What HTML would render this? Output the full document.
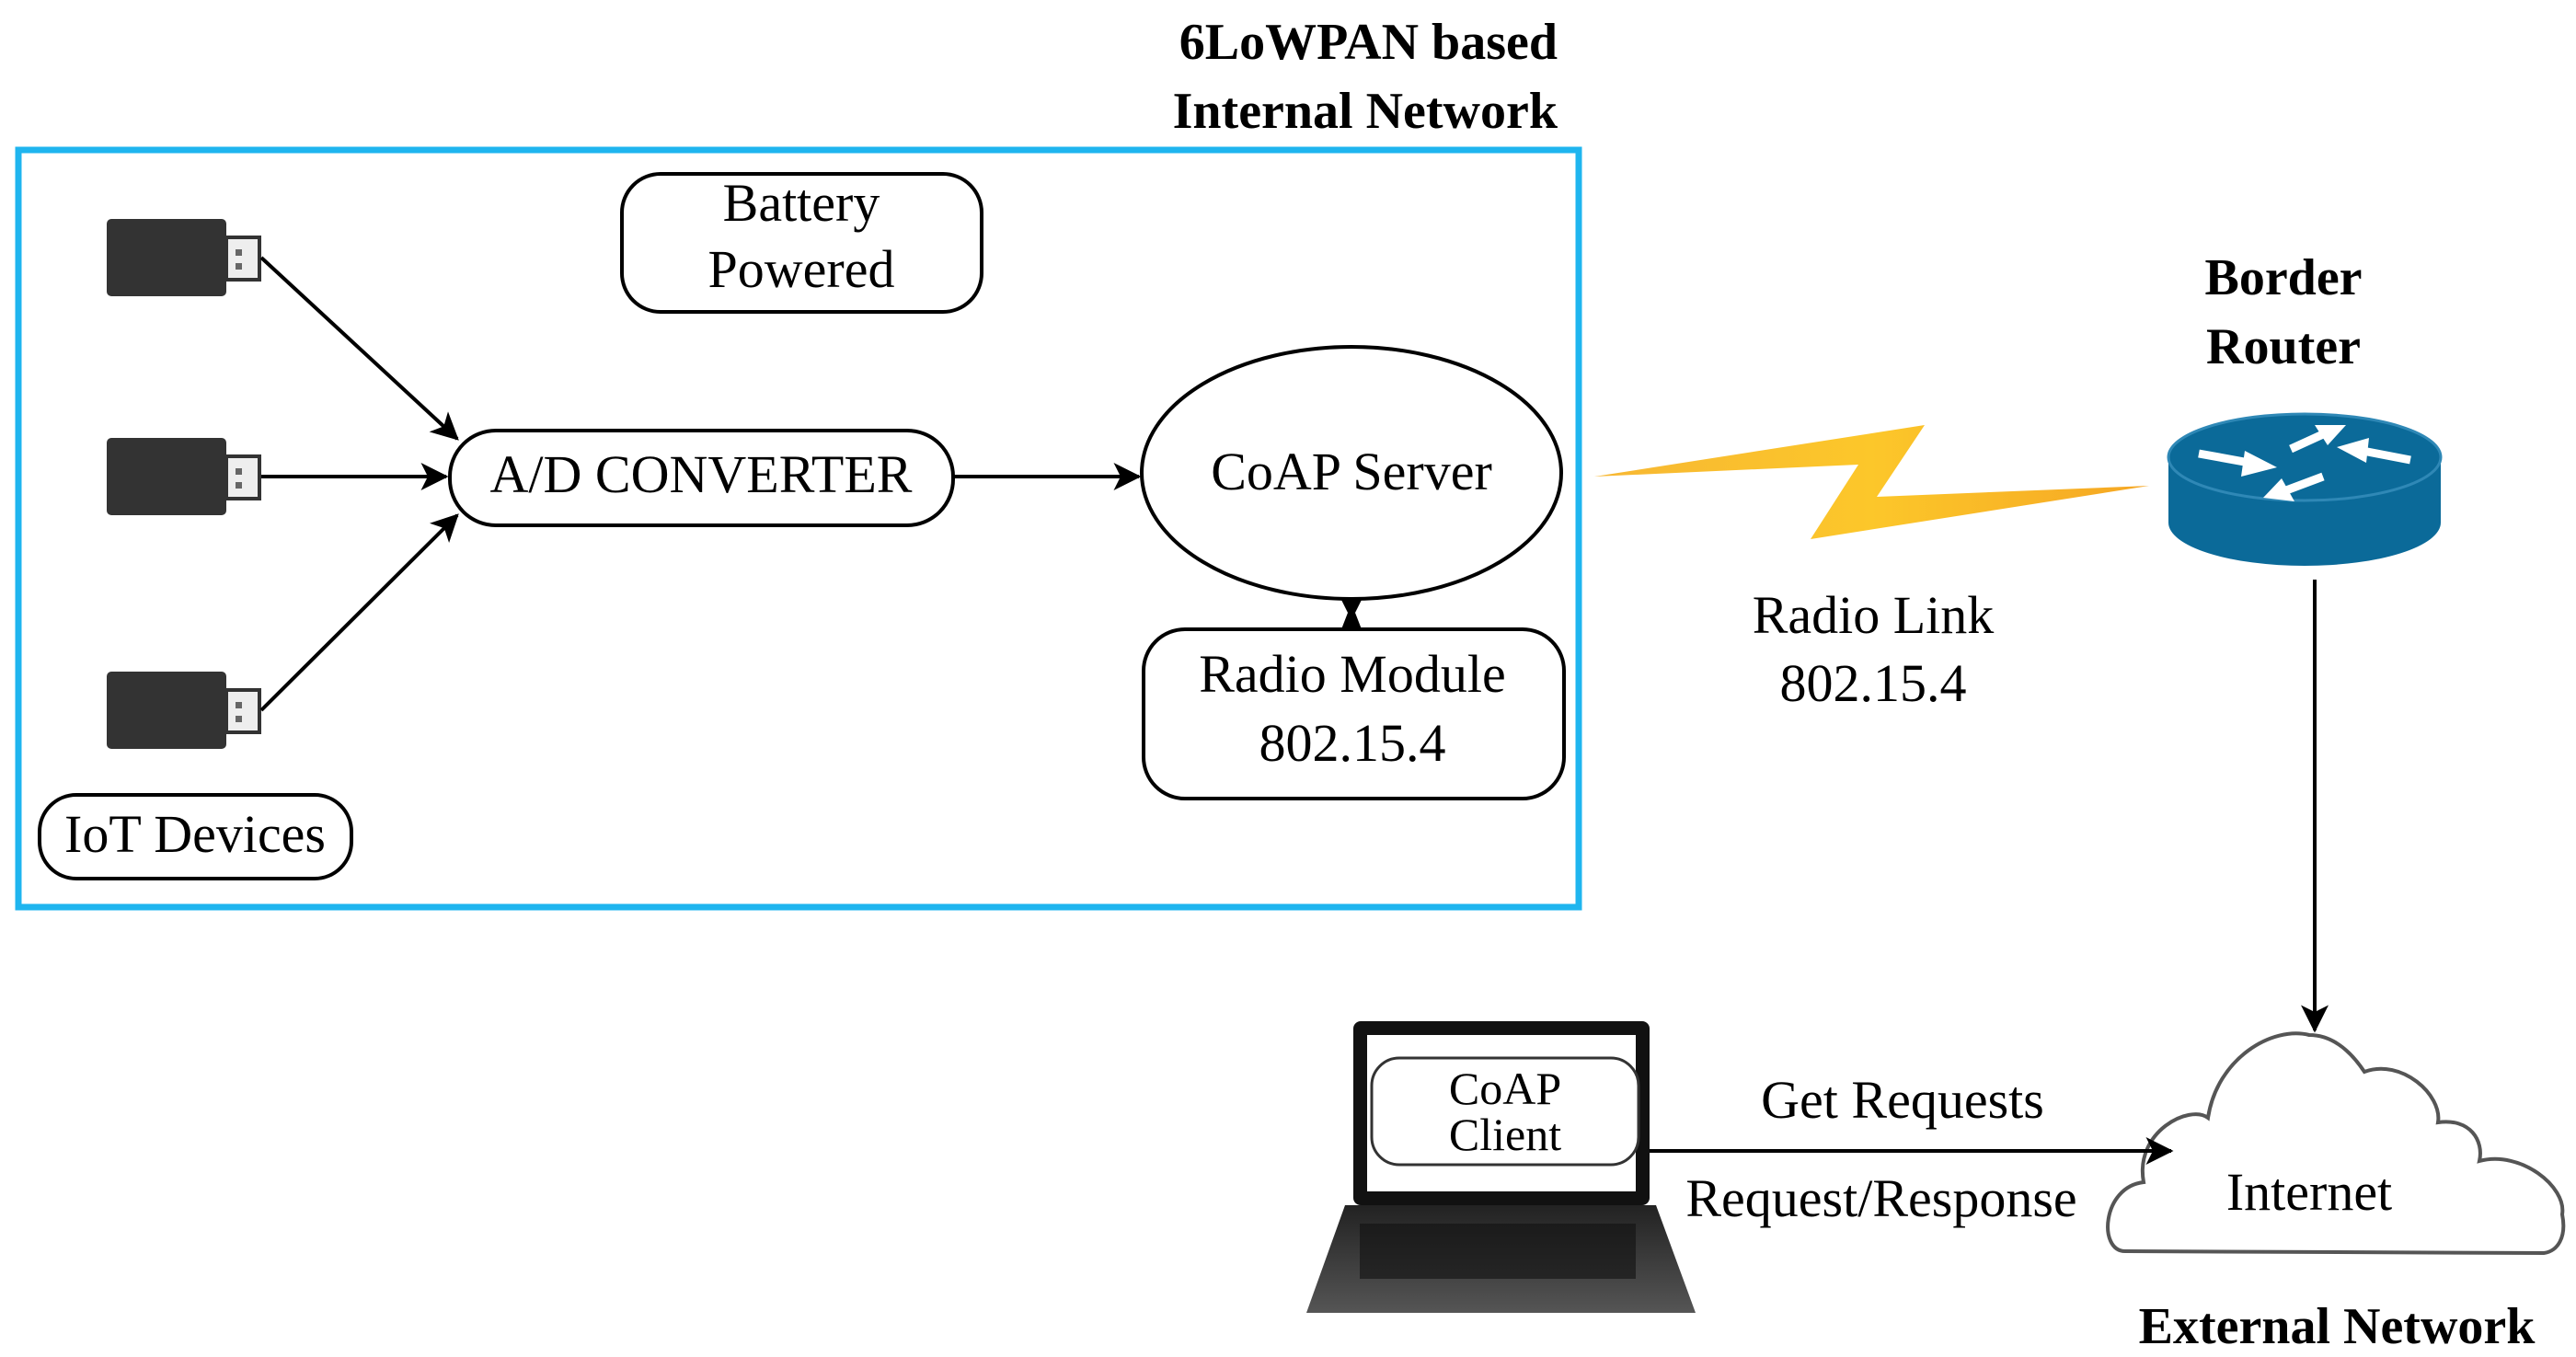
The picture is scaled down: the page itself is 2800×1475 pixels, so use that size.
<!DOCTYPE html>
<html><head><meta charset="utf-8"><style>
html,body{margin:0;padding:0;background:#fff}
svg{display:block}
svg text{font-family:"Liberation Serif","Times New Roman","DejaVu Serif",serif;fill:#000}
</style></head><body>
<svg width="2800" height="1475" viewBox="0 0 2800 1475" xmlns="http://www.w3.org/2000/svg" font-family="Liberation Serif, serif">
<defs>
<marker id="a" viewBox="0 0 12 12" refX="11" refY="6" markerWidth="30" markerHeight="30" markerUnits="userSpaceOnUse" orient="auto"><path d="M0,0 L12,6 L0,12 L3,6 z" fill="#000"/></marker>
<linearGradient id="bolt" x1="0" y1="0" x2="1" y2="0"><stop offset="0" stop-color="#f7b733"/><stop offset="0.5" stop-color="#fcc72a"/><stop offset="1" stop-color="#f5a623"/></linearGradient>
<linearGradient id="kb" x1="0" y1="0" x2="0" y2="1"><stop offset="0" stop-color="#222"/><stop offset="1" stop-color="#555"/></linearGradient>
</defs>

<text x="1693" y="64" font-size="56" font-weight="bold" text-anchor="end" font-family="Liberation Serif, serif">6LoWPAN based</text>
<text x="1693" y="139" font-size="56" font-weight="bold" text-anchor="end" font-family="Liberation Serif, serif">Internal Network</text>

<rect x="20" y="163" width="1696" height="823" fill="none" stroke="#1fb5ef" stroke-width="7"/>

<rect x="676" y="189" width="391" height="150" rx="42" fill="#fff" stroke="#000" stroke-width="4"/>
<text x="871" y="240" font-size="58" text-anchor="middle" font-family="Liberation Serif, serif">Battery</text>
<text x="871" y="312" font-size="58" text-anchor="middle" font-family="Liberation Serif, serif">Powered</text>

<g id="usb">
<rect x="116" y="238" width="130" height="84" rx="5" fill="#333"/>
<rect x="246" y="258" width="36" height="46" fill="#eee" stroke="#333" stroke-width="4"/>
<rect x="256" y="271" width="7" height="7" fill="#666"/><rect x="256" y="286" width="7" height="7" fill="#666"/>
</g>
<use href="#usb" transform="translate(0,238)"/>
<use href="#usb" transform="translate(0,492)"/>

<line x1="284" y1="280" x2="497" y2="477" stroke="#000" stroke-width="4" marker-end="url(#a)"/>
<line x1="284" y1="518" x2="485" y2="518" stroke="#000" stroke-width="4" marker-end="url(#a)"/>
<line x1="284" y1="772" x2="497" y2="560" stroke="#000" stroke-width="4" marker-end="url(#a)"/>

<rect x="489" y="468" width="547" height="103" rx="50" fill="#fff" stroke="#000" stroke-width="4"/>
<text x="762" y="535" font-size="58" text-anchor="middle" font-family="Liberation Serif, serif">A/D CONVERTER</text>
<line x1="1036" y1="518" x2="1238" y2="518" stroke="#000" stroke-width="4" marker-end="url(#a)"/>

<ellipse cx="1469" cy="514" rx="228" ry="137" fill="#fff" stroke="#000" stroke-width="4"/>
<text x="1469" y="532" font-size="58" text-anchor="middle" font-family="Liberation Serif, serif">CoAP Server</text>
<path d="M1458,652 L1480,652 L1473,666 L1480,684 L1458,684 L1465,666 z" fill="#000"/>

<rect x="1243" y="684" width="457" height="184" rx="45" fill="#fff" stroke="#000" stroke-width="4"/>
<text x="1470" y="752" font-size="58" text-anchor="middle" font-family="Liberation Serif, serif">Radio Module</text>
<text x="1470" y="827" font-size="58" text-anchor="middle" font-family="Liberation Serif, serif">802.15.4</text>

<rect x="43" y="864" width="339" height="91" rx="40" fill="#fff" stroke="#000" stroke-width="4"/>
<text x="212" y="926" font-size="58" text-anchor="middle" font-family="Liberation Serif, serif">IoT Devices</text>

<polygon points="1733,518 2092,462 2040,540 2336,528 1968,586 2020,505" fill="url(#bolt)"/>
<text x="2036" y="688" font-size="58" text-anchor="middle" font-family="Liberation Serif, serif">Radio Link</text>
<text x="2036" y="762" font-size="58" text-anchor="middle" font-family="Liberation Serif, serif">802.15.4</text>

<text x="2482" y="320" font-size="56" font-weight="bold" text-anchor="middle" font-family="Liberation Serif, serif">Border</text>
<text x="2482" y="395" font-size="56" font-weight="bold" text-anchor="middle" font-family="Liberation Serif, serif">Router</text>
<path d="M2357,497 L2357,568 A148,47 0 0 0 2653,568 L2653,497 z" fill="#0b6a99"/>
<ellipse cx="2505" cy="497" rx="148" ry="47" fill="#0b6a99"/>
<ellipse cx="2505" cy="497" rx="148" ry="47" fill="none" stroke="#2f88b6" stroke-width="3"/>
<g stroke="#fff" stroke-width="9" fill="#fff">
<line x1="2390" y1="493" x2="2445" y2="503"/><polygon points="2440,490 2475,508 2436,518" stroke="none"/>
<line x1="2490" y1="488" x2="2525" y2="472"/><polygon points="2516,462 2550,462 2530,484" stroke="none"/>
<line x1="2525" y1="518" x2="2485" y2="533"/><polygon points="2494,545 2460,541 2480,520" stroke="none"/>
<line x1="2620" y1="500" x2="2568" y2="490"/><polygon points="2572,503 2540,486 2575,476" stroke="none"/>
</g>
<line x1="2516" y1="630" x2="2516" y2="1120" stroke="#000" stroke-width="4" marker-end="url(#a)"/>

<path d="M2310,1360 C2280,1360 2285,1290 2330,1285 C2320,1230 2380,1200 2400,1215 C2410,1150 2470,1115 2510,1125 C2540,1125 2560,1150 2570,1165 C2610,1150 2655,1190 2650,1220 C2685,1215 2700,1240 2695,1262 C2740,1250 2790,1290 2785,1320 C2790,1345 2780,1360 2765,1362 z" fill="#fff" stroke="#555" stroke-width="4"/>
<text x="2510" y="1315" font-size="58" text-anchor="middle" font-family="Liberation Serif, serif">Internet</text>
<text x="2540" y="1460" font-size="56" font-weight="bold" text-anchor="middle" font-family="Liberation Serif, serif">External Network</text>

<polygon points="1462,1310 1800,1310 1843,1427 1420,1427" fill="url(#kb)"/>
<rect x="1478" y="1330" width="300" height="60" fill="#111" opacity="0.6"/>
<rect x="1471" y="1110" width="322" height="200" rx="8" fill="#111"/>
<rect x="1486" y="1125" width="292" height="170" fill="#fff"/>
<rect x="1491" y="1150" width="290" height="116" rx="30" fill="#fff" stroke="#333" stroke-width="3"/>
<text x="1636" y="1200" font-size="50" text-anchor="middle" fill="#0a0a40" font-family="Liberation Serif, serif">CoAP</text>
<text x="1636" y="1250" font-size="50" text-anchor="middle" fill="#0a0a40" font-family="Liberation Serif, serif">Client</text>
<line x1="1793" y1="1251" x2="2360" y2="1251" stroke="#000" stroke-width="4" marker-end="url(#a)"/>
<text x="2068" y="1215" font-size="58" text-anchor="middle" font-family="Liberation Serif, serif">Get Requests</text>
<text x="2045" y="1322" font-size="58" text-anchor="middle" font-family="Liberation Serif, serif">Request/Response</text>
</svg>
</body></html>
